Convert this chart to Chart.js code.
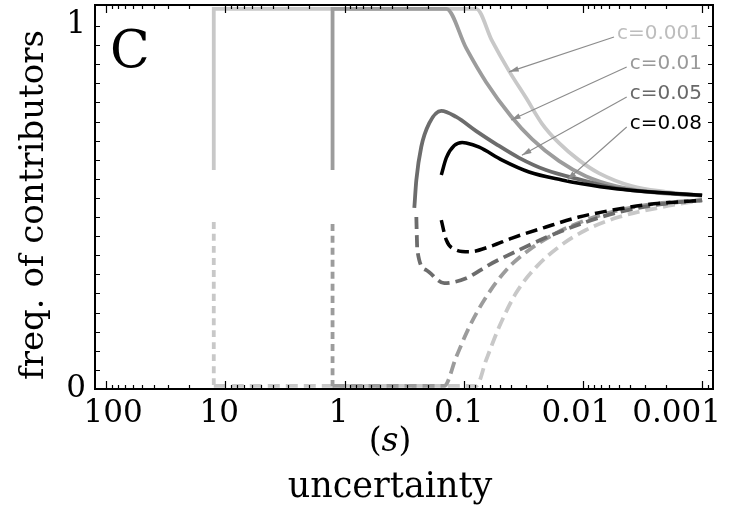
<!DOCTYPE html>
<html>
<head>
<meta charset="utf-8">
<script src="https://cdn.jsdelivr.net/npm/chart.js@4.4.1/dist/chart.umd.min.js"></script>
<style>
  html, body { margin: 0; padding: 0; background: #fff; }
  canvas { display: block; }
</style>
</head>
<body>
<canvas id="wykres" width="736" height="506"></canvas>
<script>
// tick labels of the axes
const xTicks = [100, 10, 1, 0.1, 0.01, 0.001]
const xTickLabels = ['100', '10', '1', '0.1', '0.01', '0.001']
const yTicks = [0, 1]
const yTickLabels = ['0', '1']

// series: c values, order = drawing order (first is on top)
const cLabels = ['c=0.08', 'c=0.05', 'c=0.01', 'c=0.001']
const lineColors = ['#000000', '#6c6c6c', '#9c9c9c', '#c8c8c8']
const labelColors = ['#000000', '#686868', '#999999', '#bdbdbd']

// upper (stable) branches, solid
const sHi08 = [0.1542, 0.140, 0.120, 0.103, 0.0953, 0.0741, 0.0476, 0.0283, 0.0150, 0.0102, 0.0053, 0.00202, 0.001]
const fHi08 = [0.560, 0.605, 0.637, 0.645, 0.644, 0.633, 0.599, 0.568, 0.547, 0.537, 0.524, 0.513, 0.507]
const sHi05 = [0.2596, 0.2497, 0.227, 0.1945, 0.1542, 0.1155, 0.0785, 0.0535, 0.0343, 0.0204, 0.0102, 0.0053, 0.00202, 0.001]
const fHi05 = [0.474, 0.547, 0.634, 0.696, 0.728, 0.712, 0.675, 0.641, 0.605, 0.573, 0.547, 0.526, 0.513, 0.507]
const sHi01 = [1.26, 1.26, 0.140, 0.0953, 0.0648, 0.0401, 0.0267, 0.0159, 0.00944, 0.0053, 0.00281, 0.001]
const fHi01 = [0.573, 0.995, 0.995, 0.892, 0.803, 0.714, 0.654, 0.597, 0.557, 0.531, 0.516, 0.506]
const sHi001 = [12.5, 12.5, 0.0785, 0.0578, 0.0416, 0.0300, 0.0220, 0.0159, 0.0108, 0.00735, 0.00389, 0.00202, 0.001]
const fHi001 = [0.573, 0.995, 0.995, 0.911, 0.832, 0.762, 0.694, 0.644, 0.599, 0.565, 0.531, 0.516, 0.506]

// lower (unstable) branches, dashed
const sLo08 = [0.1542, 0.140, 0.1155, 0.0899, 0.0612, 0.0393, 0.0204, 0.0108, 0.00572, 0.00297, 0.001]
const fLo08 = [0.442, 0.390, 0.364, 0.359, 0.372, 0.395, 0.424, 0.450, 0.468, 0.482, 0.494]
const sLo05 = [0.2497, 0.245, 0.206, 0.1456, 0.0953, 0.0612, 0.0343, 0.0182, 0.00944, 0.005, 0.00218, 0.001]
const fLo05 = [0.450, 0.364, 0.311, 0.277, 0.290, 0.325, 0.364, 0.403, 0.437, 0.463, 0.484, 0.494]
const sLo01 = [1.26, 1.26, 0.1456, 0.1155, 0.0899, 0.0648, 0.0441, 0.0283, 0.0168, 0.00944, 0.005, 0.00218, 0.001]
const fLo01 = [0.432, 0.008, 0.008, 0.084, 0.162, 0.241, 0.311, 0.364, 0.408, 0.442, 0.468, 0.487, 0.494]
const sLo001 = [12.5, 12.5, 0.0785, 0.0648, 0.0505, 0.0364, 0.0247, 0.0159, 0.00944, 0.005, 0.00218, 0.001]
const fLo001 = [0.437, 0.008, 0.008, 0.076, 0.162, 0.251, 0.319, 0.372, 0.416, 0.450, 0.476, 0.494]

// where the arrows of the labels point to
const arrowS = [0.0136, 0.0325, 0.0401, 0.0416]
const arrowF = [0.547, 0.612, 0.704, 0.830]

const sHi = [sHi08, sHi05, sHi01, sHi001]
const fHi = [fHi08, fHi05, fHi01, fHi001]
const sLo = [sLo08, sLo05, sLo01, sLo001]
const fLo = [fLo08, fLo05, fLo01, fLo001]

function pts(s, f) {
    return s.map((v, i) => ({x: v, y: f[i]}))
}

let datasets = []
for (let i = 0; i < cLabels.length; i++) {
    datasets.push({
        label: cLabels[i] + ' stable',
        data: pts(sHi[i], fHi[i]),
        borderColor: lineColors[i],
        borderWidth: i == 0 ? 3.5 : 3.8
    })
    datasets.push({
        label: cLabels[i] + ' unstable',
        data: pts(sLo[i], fLo[i]),
        borderColor: lineColors[i],
        borderWidth: i == 0 ? 3.5 : 3.8,
        borderDash: [12, 6],
        segment: {
            // the vertical pieces have shorter dashes
            borderDash: ctx => ctx.p0.parsed.x === ctx.p1.parsed.x ? [7, 5] : undefined
        }
    })
}

const serif = '"DejaVu Serif", "Liberation Serif", serif'
// small nudges of the x tick labels (as in the original figure)
const xLabelShift = [7, -6, -6, -5, -7, 0]

// frame, inward ticks, tick labels, titles, annotations
const rysujOsie = {
    id: 'rysujOsie',
    afterDatasetsDraw(chart) {
        const {ctx, chartArea: a, scales: {x, y}} = chart
        ctx.save()
        ctx.strokeStyle = '#000'
        ctx.lineWidth = 1.2
        // x ticks (log, major + minor), bottom and top
        for (let e = -4; e <= 2; e++) {
            for (let k = 1; k <= 9; k++) {
                const v = k * Math.pow(10, e)
                if (v < x.min || v > x.max) continue
                const px = Math.round(x.getPixelForValue(v)) + 0.5
                const len = k == 1 ? 8 : 4
                ctx.beginPath()
                ctx.moveTo(px, a.bottom); ctx.lineTo(px, a.bottom - len)
                ctx.moveTo(px, a.top); ctx.lineTo(px, a.top + len)
                ctx.stroke()
            }
        }
        // y ticks every 0.05, left and right
        for (let j = 1; j < 20; j++) {
            const py = Math.round(y.getPixelForValue(j * 0.05)) + 0.5
            ctx.beginPath()
            ctx.moveTo(a.left, py); ctx.lineTo(a.left + 5, py)
            ctx.moveTo(a.right, py); ctx.lineTo(a.right - 5, py)
            ctx.stroke()
        }
        // frame
        ctx.lineWidth = 2
        ctx.strokeRect(a.left, a.top, a.right - a.left, a.bottom - a.top)

        // tick labels
        ctx.fillStyle = '#000'
        ctx.font = '31px ' + serif
        ctx.textBaseline = 'alphabetic'
        xTicks.forEach((v, i) => {
            const px = x.getPixelForValue(v) + xLabelShift[i]
            if (i == xTicks.length - 1) {
                ctx.textAlign = 'right'
                ctx.fillText(xTickLabels[i], 721, 422)
            } else {
                ctx.textAlign = 'center'
                ctx.fillText(xTickLabels[i], px, 422)
            }
        })
        ctx.textAlign = 'center'
        yTicks.forEach((v, i) => {
            const py = y.getPixelForValue(v)
            // label "1" sits below its tick, "0" at its tick
            ctx.fillText(yTickLabels[i], 76, v == 1 ? py + 26 : py + 8)
        })

        // x title: (s) / uncertainty
        const cx = 390
        ctx.font = '33px ' + serif
        const wL = ctx.measureText('(').width
        const wR = ctx.measureText(')').width
        ctx.font = 'italic 33px ' + serif
        const wS = ctx.measureText('s').width
        let sx = cx - (wL + wS + wR) / 2
        ctx.textAlign = 'left'
        ctx.font = '33px ' + serif
        ctx.fillText('(', sx, 451)
        ctx.font = 'italic 33px ' + serif
        ctx.fillText('s', sx + wL, 451)
        ctx.font = '33px ' + serif
        ctx.fillText(')', sx + wL + wS, 451)
        ctx.textAlign = 'center'
        ctx.font = '35px ' + serif
        ctx.fillText('uncertainty', cx, 497)

        // y title
        ctx.save()
        ctx.translate(34, 205)
        ctx.rotate(-Math.PI / 2)
        ctx.font = '34px ' + serif
        ctx.textBaseline = 'middle'
        ctx.fillText('freq. of contributors', 0, 0)
        ctx.restore()

        // panel letter
        ctx.textAlign = 'left'
        ctx.font = '52px ' + serif
        ctx.fillText('C', 110, 67)

        // labels with arrows
        const labelY = [124, 94, 64, 34]
        ctx.font = '20px "DejaVu Sans", sans-serif'
        ctx.textBaseline = 'middle'
        ctx.textAlign = 'right'
        for (let i = 0; i < cLabels.length; i++) {
            ctx.fillStyle = labelColors[i]
            ctx.fillText(cLabels[i], 702, labelY[i])
            const w = ctx.measureText(cLabels[i]).width
            const x0 = 702 - w - 3, y0 = labelY[i] + 3
            const x1 = x.getPixelForValue(arrowS[i]), y1 = y.getPixelForValue(arrowF[i])
            ctx.strokeStyle = '#8c8c8c'
            ctx.fillStyle = '#8c8c8c'
            ctx.lineWidth = 1.1
            ctx.beginPath()
            ctx.moveTo(x0, y0); ctx.lineTo(x1, y1)
            ctx.stroke()
            const ang = Math.atan2(y1 - y0, x1 - x0)
            ctx.beginPath()
            ctx.moveTo(x1, y1)
            ctx.lineTo(x1 - 10 * Math.cos(ang - 0.28), y1 - 10 * Math.sin(ang - 0.28))
            ctx.lineTo(x1 - 10 * Math.cos(ang + 0.28), y1 - 10 * Math.sin(ang + 0.28))
            ctx.closePath()
            ctx.fill()
        }
        ctx.restore()
    }
}

const chart = new Chart(document.getElementById('wykres'), {
    type: 'line',
    data: {datasets: datasets},
    options: {
        responsive: false,
        animation: false,
        devicePixelRatio: 1,
        layout: {padding: {left: 95, top: 5, right: 23, bottom: 117}},
        plugins: {
            legend: {display: false},
            tooltip: {enabled: false}
        },
        elements: {
            point: {radius: 0},
            line: {tension: 0.4, cubicInterpolationMode: 'monotone', borderCapStyle: 'butt'}
        },
        scales: {
            x: {type: 'logarithmic', reverse: true, min: 0.00081, max: 124, display: false},
            y: {type: 'linear', min: 0, max: 1.005, display: false}
        }
    },
    plugins: [rysujOsie]
})
</script>
</body>
</html>
